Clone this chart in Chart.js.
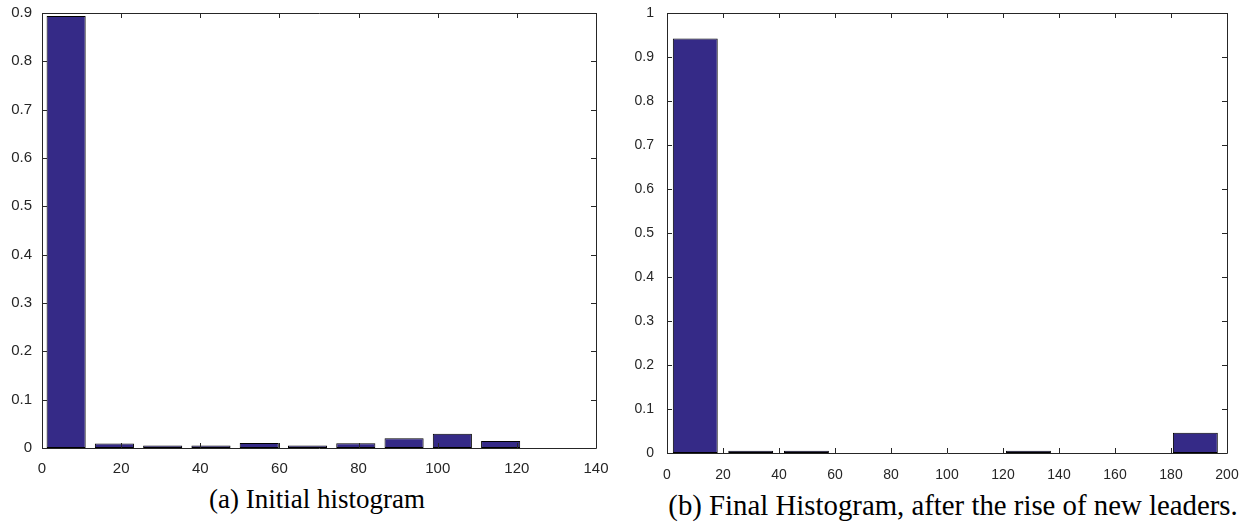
<!DOCTYPE html>
<html>
<head>
<meta charset="utf-8">
<script src="https://cdn.jsdelivr.net/npm/chart.js@4/dist/chart.umd.min.js"></script>
<style>
  html, body { margin:0; padding:0; background:#fff; width:1248px; height:531px; overflow:hidden; }
  canvas { position:absolute; }
  .cap { position:absolute; font-family:"Liberation Serif","Times New Roman",serif; color:#000; white-space:nowrap; transform:translateX(-50%); line-height:30px; }
</style>
</head>
<body>
<canvas id="left" width="610" height="480" style="left:0;top:0;width:610px;height:480px"></canvas>
<canvas id="right" width="628" height="485" style="left:620px;top:0;width:628px;height:485px"></canvas>
<div class="cap" style="left:317px;top:484px;font-size:27px">(a) Initial histogram</div>
<div class="cap" style="left:953px;top:490px;font-size:28.8px">(b) Final Histogram, after the rise of new leaders.</div>
<script>
// ---- data ----
const leftCenters = [6.1, 18.3, 30.5, 42.7, 54.9, 67.1, 79.3, 91.5, 103.7, 115.9];
const leftValues  = [0.894, 0.0095, 0.005, 0.005, 0.0105, 0.005, 0.01, 0.02, 0.0295, 0.0145];
const leftXTicks  = [0, 20, 40, 60, 80, 100, 120, 140];
const leftYTicks  = [0, 0.1, 0.2, 0.3, 0.4, 0.5, 0.6, 0.7, 0.8, 0.9];

const rightCenters = [10.1, 29.9, 49.8, 69.6, 89.5, 109.3, 129.1, 149.0, 168.8, 188.7];
const rightValues  = [0.942, 0.005, 0.005, 0, 0, 0, 0.005, 0, 0, 0.046];
const rightXTicks  = [0, 20, 40, 60, 80, 100, 120, 140, 160, 180, 200];
const rightYTicks  = [0, 0.1, 0.2, 0.3, 0.4, 0.5, 0.6, 0.7, 0.8, 0.9, 1];

const BAR_FILL = '#352a87';
const AXIS_COLOR = '#262626';

const boxTicksPlugin = {
  id: 'boxTicks',
  afterDatasetsDraw(chart) {
    const {ctx, chartArea: a, scales: {x, y}} = chart;
    const L = 5;
    ctx.save();
    ctx.strokeStyle = AXIS_COLOR;
    ctx.lineWidth = 1;
    ctx.beginPath();
    ctx.rect(Math.round(a.left) + 0.5, Math.round(a.top) + 0.5,
             Math.round(a.right - a.left), Math.round(a.bottom - a.top));
    x.ticks.forEach(t => {
      const px = Math.round(x.getPixelForValue(t.value)) + 0.5;
      ctx.moveTo(px, a.bottom); ctx.lineTo(px, a.bottom - L);
      ctx.moveTo(px, a.top); ctx.lineTo(px, a.top + L);
    });
    y.ticks.forEach(t => {
      const py = Math.round(y.getPixelForValue(t.value)) + 0.5;
      ctx.moveTo(a.left, py); ctx.lineTo(a.left + L, py);
      ctx.moveTo(a.right, py); ctx.lineTo(a.right - L, py);
    });
    ctx.stroke();
    ctx.restore();
  }
};

function makeChart(id, centers, values, xTicks, yTicks, opts) {
  const fontFam = '"Liberation Sans", Arial, Helvetica, sans-serif';
  return new Chart(document.getElementById(id), {
    type: 'bar',
    data: {
      datasets: [{
        data: centers.map((c, i) => ({x: c, y: values[i]})),
        backgroundColor: BAR_FILL,
        borderColor: '#000',
        borderWidth: 1,
        borderSkipped: false,
        barPercentage: 0.81,
        categoryPercentage: 1.0
      }]
    },
    options: {
      responsive: false,
      animation: false,
      events: [],
      layout: { padding: { left: 0, right: opts.padRight, top: opts.padTop, bottom: 0 } },
      plugins: { legend: { display: false }, tooltip: { enabled: false } },
      scales: {
        x: {
          type: 'linear',
          offset: false,
          min: xTicks[0], max: xTicks[xTicks.length - 1],
          grid: { display: false, offset: false },
          border: { display: false },
          afterBuildTicks: s => { s.ticks = xTicks.map(v => ({value: v})); },
          afterFit: s => { s.height = opts.xAxisH; s.paddingLeft = 0; s.paddingRight = 0; },
          ticks: { autoSkip: false, maxRotation: 0, color: AXIS_COLOR, padding: opts.xPad,
                   font: { family: fontFam, size: opts.fontSize } }
        },
        y: {
          min: yTicks[0], max: yTicks[yTicks.length - 1],
          grid: { display: false },
          border: { display: false },
          afterBuildTicks: s => { s.ticks = yTicks.map(v => ({value: v})); },
          afterFit: s => { s.width = opts.yAxisW; s.paddingTop = 0; s.paddingBottom = 0; },
          ticks: { color: AXIS_COLOR, padding: opts.yPad,
                   font: { family: fontFam, size: opts.fontSize },
                   callback: v => String(Math.round(v * 10) / 10) }
        }
      }
    },
    plugins: [boxTicksPlugin]
  });
}

makeChart('left', leftCenters, leftValues, leftXTicks, leftYTicks,
  { padRight: 14, padTop: 13, xAxisH: 32, yAxisW: 42, fontSize: 15, xPad: 4, yPad: 2 });
makeChart('right', rightCenters, rightValues, rightXTicks, rightYTicks,
  { padRight: 21, padTop: 13, xAxisH: 32, yAxisW: 47, fontSize: 14, xPad: 6, yPad: 5 });
</script>
</body>
</html>
